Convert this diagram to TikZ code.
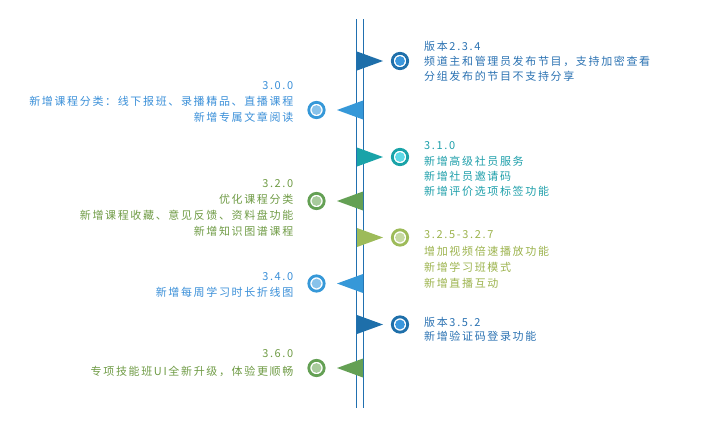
\documentclass[tikz,border=0pt]{standalone}
\usepackage{fontspec}
\newfontfamily\cjk[LetterSpace=15]{Noto Sans CJK SC}
\definecolor{axisc}{HTML}{2170B0}
\definecolor{dblue}{HTML}{1E6FAA}
\definecolor{dblueIn}{HTML}{3A97DD}
\definecolor{dblueTx}{HTML}{2B72B2}
\definecolor{lblue}{HTML}{3698D8}
\definecolor{lblueIn}{HTML}{88C2EA}
\definecolor{lblueTx}{HTML}{3A8FD8}
\definecolor{teal}{HTML}{19A3A8}
\definecolor{tealIn}{HTML}{5ED9E6}
\definecolor{tealTx}{HTML}{1E9FAA}
\definecolor{grn}{HTML}{64A054}
\definecolor{grnIn}{HTML}{A8CB9C}
\definecolor{grnTx}{HTML}{6F9B45}
\definecolor{olv}{HTML}{9DBB59}
\definecolor{olvIn}{HTML}{C6D9A2}
\definecolor{olvTx}{HTML}{9CB34D}
\tikzset{
  txt/.style={inner sep=0pt, text height=0.88em, text depth=0.12em,
    font=\cjk\fontsize{11}{13}\selectfont},
  rtxt/.style={txt, anchor=west},
  ltxt/.style={txt, anchor=east},
  ring/.style={circle, draw=#1, line width=2.8pt, minimum size=15.4pt, inner sep=0pt},
  dot/.style={circle, fill=#1, minimum size=9.8pt, inner sep=0pt},
  axisline/.style={draw=axisc, line width=1.3pt}
}
\begin{document}
\begin{tikzpicture}[x=1pt,y=-1pt]
\useasboundingbox (0,0) rectangle (725,421);
% axis
\coordinate (la) at (356.7,19); \coordinate (lb) at (356.7,408);
\coordinate (ra) at (363.3,19); \coordinate (rb) at (363.3,408);
\draw[axisline] (la) -- (lb);
\draw[axisline] (ra) -- (rb);

% 2.3.4
\fill[dblue] (357,51.5) -- (383,61) -- (357,70.5) -- cycle;
\node[ring=dblue] (c1) at (400,61) {};
\node[dot=dblueIn] (d1) at (c1) {};
\node[rtxt, text=dblueTx] (t1a) at (424,47) {版本2.3.4};
\node[rtxt, text=dblueTx] (t1b) at (424,62) {频道主和管理员发布节目，支持加密查看};
\node[rtxt, text=dblueTx] (t1c) at (424,76.5) {分组发布的节目不支持分享};

% 3.0.0
\fill[lblue] (363,100.5) -- (337,110) -- (363,119.5) -- cycle;
\node[ring=lblue] (c2) at (316.5,110) {};
\node[dot=lblueIn] (d2) at (c2) {};
\node[ltxt, text=lblueTx] (t2a) at (293.5,86) {3.0.0};
\node[ltxt, text=lblueTx] (t2b) at (293.5,102) {新增课程分类：线下报班、录播精品、直播课程};
\node[ltxt, text=lblueTx] (t2c) at (293.5,118) {新增专属文章阅读};

% 3.1.0
\fill[teal] (357,147.5) -- (383,157) -- (357,166.5) -- cycle;
\node[ring=teal] (c3) at (400,157) {};
\node[dot=tealIn] (d3) at (c3) {};
\node[rtxt, text=tealTx] (t3a) at (424,146) {3.1.0};
\node[rtxt, text=tealTx] (t3b) at (424,161.5) {新增高级社员服务};
\node[rtxt, text=tealTx] (t3c) at (424,176.5) {新增社员邀请码};
\node[rtxt, text=tealTx] (t3d) at (424,191.5) {新增评价选项标签功能};

% 3.2.0
\fill[grn] (363,191.5) -- (337,201) -- (363,210.5) -- cycle;
\node[ring=grn] (c4) at (316.5,201) {};
\node[dot=grnIn] (d4) at (c4) {};
\node[ltxt, text=grnTx] (t4a) at (293.5,183.5) {3.2.0};
\node[ltxt, text=grnTx] (t4b) at (293.5,199.5) {优化课程分类};
\node[ltxt, text=grnTx] (t4c) at (293.5,215.5) {新增课程收藏、意见反馈、资料盘功能};
\node[ltxt, text=grnTx] (t4d) at (293.5,231.5) {新增知识图谱课程};

% 3.2.5-3.2.7
\fill[olv] (357,228) -- (383,237.5) -- (357,247) -- cycle;
\node[ring=olv] (c5) at (400,237.5) {};
\node[dot=olvIn] (d5) at (c5) {};
\node[rtxt, text=olvTx] (t5a) at (424,234.5) {3.2.5-3.2.7};
\node[rtxt, text=olvTx] (t5b) at (424,251.5) {增加视频倍速播放功能};
\node[rtxt, text=olvTx] (t5c) at (424,267.5) {新增学习班模式};
\node[rtxt, text=olvTx] (t5d) at (424,283.5) {新增直播互动};

% 3.4.0
\fill[lblue] (363,274) -- (337,283.5) -- (363,293) -- cycle;
\node[ring=lblue] (c6) at (316.5,283.5) {};
\node[dot=lblueIn] (d6) at (c6) {};
\node[ltxt, text=lblueTx] (t6a) at (293.5,277) {3.4.0};
\node[ltxt, text=lblueTx] (t6b) at (293.5,292.5) {新增每周学习时长折线图};

% 3.5.2
\fill[dblue] (357,315) -- (383,324.5) -- (357,334) -- cycle;
\node[ring=dblue] (c7) at (400,324.5) {};
\node[dot=dblueIn] (d7) at (c7) {};
\node[rtxt, text=dblueTx] (t7a) at (424,323) {版本3.5.2};
\node[rtxt, text=dblueTx] (t7b) at (424,336.5) {新增验证码登录功能};

% 3.6.0
\fill[grn] (363,358.5) -- (337,368) -- (363,377.5) -- cycle;
\node[ring=grn] (c8) at (316.5,368) {};
\node[dot=grnIn] (d8) at (c8) {};
\node[ltxt, text=grnTx] (t8a) at (293.5,354) {3.6.0};
\node[ltxt, text=grnTx] (t8b) at (293.5,371.5) {专项技能班UI全新升级，体验更顺畅};
\end{tikzpicture}
\end{document}
